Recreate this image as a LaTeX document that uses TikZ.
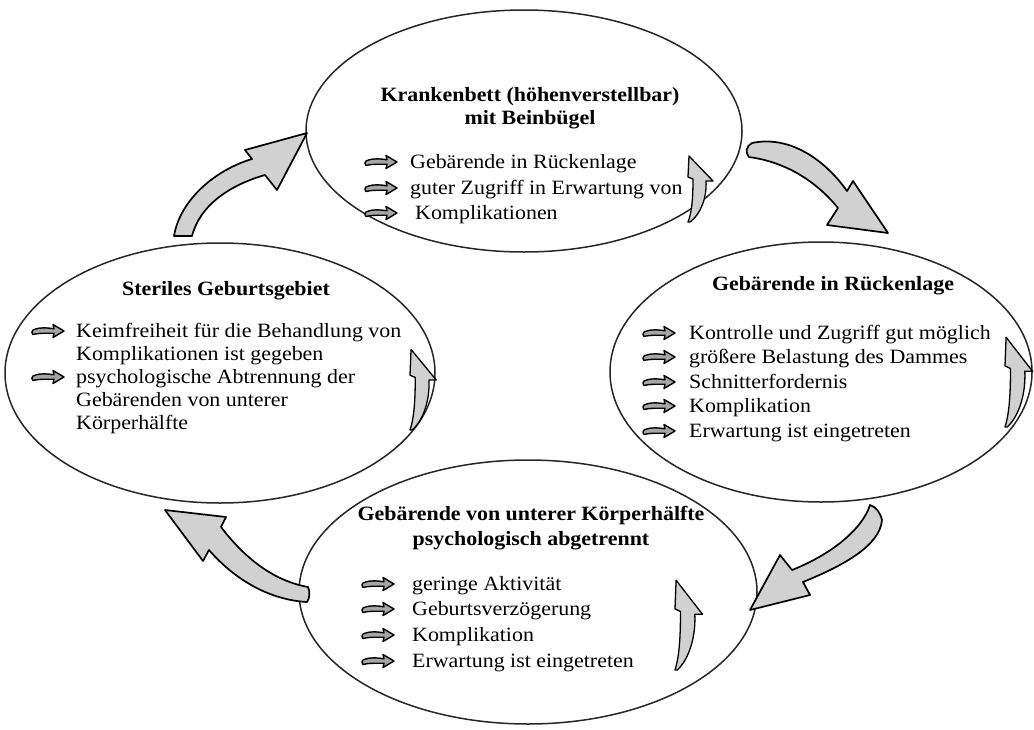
\documentclass[tikz,border=0pt]{standalone}
\usepackage{fontspec}
\setmainfont{Liberation Serif}[FakeStretch=1.08]
\usetikzlibrary{shapes.geometric}
\tikzset{
  ell/.style={draw=black!85, line width=1.5pt, ellipse, inner sep=0pt},
  bigarrow/.style={fill=black!18, draw=black, line width=1.7pt, line join=round},
  smallarrow/.style={fill=black!18, draw=black, line width=1.3pt, line join=round},
  bulstyle/.style={fill=black!35, draw=black, line width=1.4pt, line join=round},
  txt/.style={anchor=base west, inner sep=0pt, font=\fontsize{20.3}{24}\selectfont},
  headtxt/.style={anchor=base, inner sep=0pt, font=\fontsize{20.3}{24}\selectfont\bfseries},
  bul/.pic={\draw[bulstyle] (0,-1) .. controls (8,-4.5) and (15,-3) .. (21,-2.2) -- (20,-6.5) -- (31,0) -- (20,6.5) -- (21,2.2) .. controls (15,2.5) and (8,1.5) .. (0,3.5) .. controls (-1.5,2.5) and (-1.5,0) .. cycle;},
  uparr/.pic={\draw[smallarrow] (0,0) .. controls (4,-10) and (5,-25) .. (5,-43) -- (0,-45) -- (1,-66) -- (25,-41) -- (18,-41) .. controls (19,-25) and (13,-8) .. (2,0) -- cycle;}
}
\begin{document}
\begin{tikzpicture}[x=1pt,y=-1pt]
\useasboundingbox (0,0) rectangle (1034,729);

% ellipses
\node[ell, minimum width=436pt, minimum height=242pt] (top) at (524,131) {};
\node[ell, minimum width=430pt, minimum height=260pt] (left) at (220,373) {};
\node[ell, minimum width=422pt, minimum height=260pt] (right) at (821,372) {};
\node[ell, minimum width=458pt, minimum height=264pt] (bottom) at (528,592) {};

% big cycle arrows
\draw[bigarrow] (752,143) .. controls (790,135) and (825,160) .. (847,191) -- (853,181) -- (888,233) -- (827,225) -- (838,208) .. controls (815,180) and (785,162) .. (749,157) .. controls (745,153) and (746,146) .. cycle;
\draw[bigarrow] (870,505) .. controls (862,530) and (830,555) .. (792,570) -- (780,555) -- (750,610) -- (810,595) -- (803,582) .. controls (845,565) and (880,545) .. (882,520) .. controls (880,512) and (876,507) .. cycle;
\draw[bigarrow] (308,587) .. controls (280,582) and (250,565) .. (221,527) -- (226,517) -- (165,510) -- (203,561) -- (209,550) .. controls (235,580) and (270,600) .. (307,602) .. controls (310,598) and (310,591) .. cycle;
\draw[bigarrow] (307,133) -- (277,190) -- (265,175) .. controls (230,185) and (200,205) .. (192,236) -- (174,236) .. controls (180,200) and (215,170) .. (252,159) -- (245,150) -- cycle;

% small arrows inside ellipses
\pic at (688,222) {uparr};
\pic[xscale=1.05, yscale=1.22] at (410,430) {uparr};
\pic[xscale=1.1, yscale=1.36] at (1005,427) {uparr};
\pic[xscale=1.1, yscale=1.36] at (675,670) {uparr};

% top ellipse text
\node[headtxt] (th1) at (530,101) {Krankenbett (höhenverstellbar)};
\node[headtxt] (th2) at (530,124) {mit Beinbügel};
\pic at (366,162) {bul};
\node[txt] (t1) at (410,168) {Gebärende in Rückenlage};
\pic at (366,188) {bul};
\node[txt] (t2) at (410,194) {guter Zugriff in Erwartung von};
\pic at (366,213) {bul};
\node[txt] (t3) at (415,219) {Komplikationen};

% left ellipse text
\node[headtxt] (lh) at (226,295) {Steriles Geburtsgebiet};
\pic at (33,331) {bul};
\node[txt] (l1) at (76,337) {Keimfreiheit für die Behandlung von};
\node[txt] (l2) at (76,360) {Komplikationen ist gegeben};
\pic at (33,377) {bul};
\node[txt] (l3) at (76,383) {psychologische Abtrennung der};
\node[txt] (l4) at (76,406) {Gebärenden von unterer};
\node[txt] (l5) at (76,429) {Körperhälfte};

% right ellipse text
\node[headtxt] (rh) at (833,290) {Gebärende in Rückenlage};
\pic at (644,333) {bul};
\node[txt] (r1) at (689,339) {Kontrolle und Zugriff gut möglich};
\pic at (644,357) {bul};
\node[txt] (r2) at (689,363) {größere Belastung des Dammes};
\pic at (644,382) {bul};
\node[txt] (r3) at (689,388) {Schnitterfordernis};
\pic at (644,406) {bul};
\node[txt] (r4) at (689,412) {Komplikation};
\pic at (644,431) {bul};
\node[txt] (r5) at (689,437) {Erwartung ist eingetreten};

% bottom ellipse text
\node[headtxt] (bh1) at (531,520) {Gebärende von unterer Körperhälfte};
\node[headtxt] (bh2) at (531,545) {psychologisch abgetrennt};
\pic at (363,584) {bul};
\node[txt] (b1) at (412,590) {geringe Aktivität};
\pic at (363,609) {bul};
\node[txt] (b2) at (412,615) {Geburtsverzögerung};
\pic at (363,635) {bul};
\node[txt] (b3) at (412,641) {Komplikation};
\pic at (363,661) {bul};
\node[txt] (b4) at (412,667) {Erwartung ist eingetreten};
\end{tikzpicture}
\end{document}
